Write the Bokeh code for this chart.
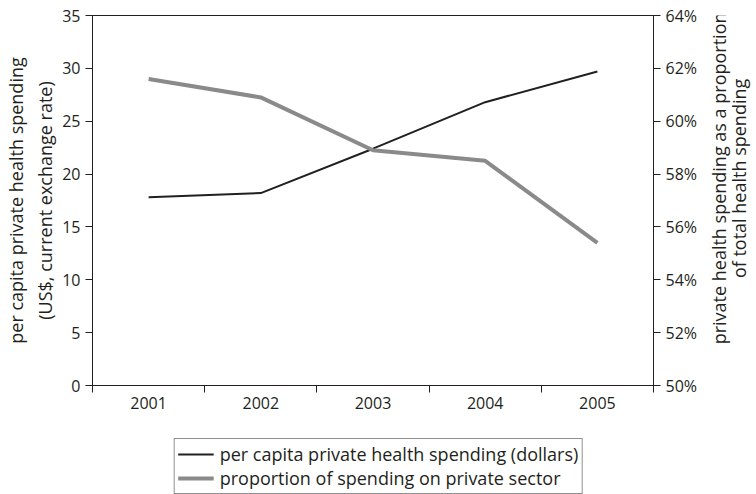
import math
from bokeh.plotting import figure
from bokeh.layouts import column, row
from bokeh.models import (Range1d, LinearAxis, FixedTicker, Legend, LegendItem,
                          PrintfTickFormatter, CustomJSTickFormatter)
from bokeh.core.properties import value
from bokeh.embed import file_html
from bokeh.resources import INLINE

years = ["2001", "2002", "2003", "2004", "2005"]
spending = [17.8, 18.2, 22.4, 26.8, 29.7]
proportion = [61.6, 60.9, 58.9, 58.5, 55.4]
left_ticks = [0, 5, 10, 15, 20, 25, 30, 35]
right_ticks = [50, 52, 54, 56, 58, 60, 62, 64]
series_names = ["per capita private health spending (dollars)",
                "proportion of spending on private sector"]
left_title = "per capita private health spending\n(US$, current exchange rate)"
right_title = ["private health spending as a proportion", "of total health spending"]

FONT = "Open Sans"
INK = "#231f20"
GREY = "#8a8a8a"
TICK_FS = "16px"
LABEL_FS = "18px"

MAIN_W, MAIN_H = 700, 436
SIDE_W = 56
LEG_H = 58

x = list(range(1, len(years) + 1))
bounds = [i + 0.5 for i in range(0, len(years) + 1)]

p = figure(width=MAIN_W, height=MAIN_H, output_backend="svg", toolbar_location=None,
           x_range=Range1d(0.5, len(years) + 0.5),
           y_range=Range1d(left_ticks[0], left_ticks[-1]),
           min_border_left=92, min_border_right=47, min_border_top=15,
           min_border_bottom=51)
p.extra_y_ranges = {"pct": Range1d(right_ticks[0], right_ticks[-1])}
p.xgrid.visible = False
p.ygrid.visible = False
p.outline_line_color = INK
p.outline_line_width = 1
p.background_fill_color = "white"
p.border_fill_color = "white"

# x axis
xa = p.xaxis[0]
xa.ticker = FixedTicker(ticks=x, minor_ticks=bounds)
xa.formatter = CustomJSTickFormatter(args=dict(labels=years),
                                     code="const i = Math.round(tick) - 1; return labels[i] || '';")
xa.major_tick_line_color = None
xa.minor_tick_in = 0
xa.minor_tick_out = 7
xa.minor_tick_line_color = INK
xa.axis_line_color = INK
xa.major_label_text_font = FONT
xa.major_label_text_font_size = TICK_FS
xa.major_label_text_color = INK
xa.major_label_standoff = 4

# left axis
ya = p.yaxis[0]
ya.ticker = FixedTicker(ticks=left_ticks)
ya.major_tick_in = 0
ya.major_tick_out = 7
ya.minor_tick_line_color = None
ya.axis_line_color = INK
ya.major_tick_line_color = INK
ya.major_label_text_font = FONT
ya.major_label_text_font_size = TICK_FS
ya.major_label_text_color = INK
ya.major_label_standoff = 5
ya.axis_label = left_title
ya.axis_label_text_font = FONT
ya.axis_label_text_font_size = LABEL_FS
ya.axis_label_text_font_style = "normal"
ya.axis_label_text_color = INK
ya.axis_label_standoff = 2

# right axis (ticks and tick labels; its title is drawn in the side strip)
ra = LinearAxis(y_range_name="pct", ticker=FixedTicker(ticks=right_ticks),
                formatter=PrintfTickFormatter(format="%d%%"))
ra.major_tick_in = 0
ra.major_tick_out = 7
ra.minor_tick_line_color = None
ra.axis_line_color = INK
ra.major_tick_line_color = INK
ra.major_label_text_font = FONT
ra.major_label_text_font_size = TICK_FS
ra.major_label_text_color = INK
ra.major_label_standoff = 5
p.add_layout(ra, "right")

p.line(x, spending, line_color=INK, line_width=2)
p.line(x, proportion, y_range_name="pct", line_color=GREY, line_width=4)

# right-hand title strip (text reads bottom to top)
side = figure(width=SIDE_W, height=MAIN_H, output_backend="svg", toolbar_location=None,
              x_axis_type=None, y_axis_type=None,
              x_range=Range1d(0, SIDE_W), y_range=Range1d(0, MAIN_H), min_border=0)
side.outline_line_color = None
side.xgrid.visible = False
side.ygrid.visible = False
side.text(x=[18, 38], y=[MAIN_H - 192, MAIN_H - 192], text=right_title,
          angle=math.pi / 2, text_align="center", text_baseline="middle",
          text_font=value(FONT), text_font_size=LABEL_FS, text_color=INK)

# legend strip below the chart
lg = figure(width=MAIN_W + SIDE_W, height=LEG_H, output_backend="svg", toolbar_location=None,
            x_axis_type=None, y_axis_type=None,
            x_range=Range1d(-1, 0), y_range=Range1d(-1, 0), min_border=0)
lg.outline_line_color = None
lg.xgrid.visible = False
lg.ygrid.visible = False
# same series, outside this strip's ranges: only their legend keys show
k1 = lg.line(x, spending, line_color=INK, line_width=2)
k2 = lg.line(x, proportion, line_color=GREY, line_width=4)
legend = Legend(items=[LegendItem(label=series_names[0], renderers=[k1]),
                       LegendItem(label=series_names[1], renderers=[k2])],
                location="top_center")
legend.label_text_font = FONT
legend.label_text_font_size = LABEL_FS
legend.label_text_color = INK
legend.border_line_color = INK
legend.border_line_width = 1
legend.background_fill_alpha = 1
legend.glyph_width = 36
legend.glyph_height = 24
legend.label_height = 24
legend.label_standoff = 6
legend.padding = 3
legend.spacing = 0
legend.margin = 2
lg.add_layout(legend, "center")

layout = column(row(p, side, spacing=0), lg, spacing=0)
open("out.html", "w").write(file_html(layout, INLINE))
